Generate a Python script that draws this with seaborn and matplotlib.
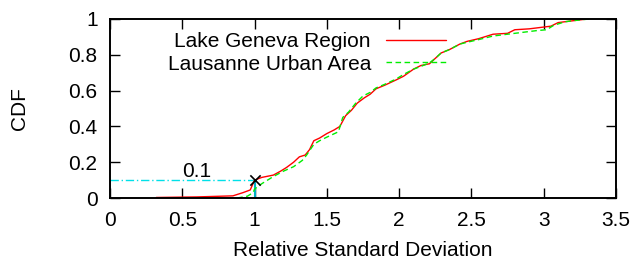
import matplotlib
matplotlib.use("Agg")
import matplotlib.pyplot as plt
import seaborn as sns
import pandas as pd

# data
red_x = [0.32, 0.60, 0.85, 0.92, 0.97, 1.00, 1.05, 1.13, 1.18, 1.22, 1.27, 1.31, 1.35, 1.38, 1.41,
         1.45, 1.50, 1.55, 1.59, 1.61, 1.63, 1.67, 1.71, 1.76, 1.80, 1.84, 1.90, 1.98, 2.03, 2.10,
         2.15, 2.21, 2.25, 2.29, 2.35, 2.42, 2.47, 2.55, 2.65, 2.75, 2.80, 2.90, 3.00, 3.05, 3.10,
         3.20, 3.30]
red_y = [0.003, 0.006, 0.012, 0.03, 0.045, 0.10, 0.115, 0.128, 0.15, 0.17, 0.20, 0.23, 0.24, 0.27, 0.32,
         0.335, 0.36, 0.38, 0.40, 0.43, 0.46, 0.49, 0.53, 0.56, 0.58, 0.61, 0.63, 0.66, 0.68, 0.72,
         0.74, 0.75, 0.78, 0.81, 0.83, 0.86, 0.875, 0.89, 0.915, 0.92, 0.94, 0.945, 0.955, 0.96, 0.98,
         0.99, 1.0]
green_x = [0.88, 0.95, 0.99, 1.00, 1.05, 1.13, 1.20, 1.27, 1.33, 1.36, 1.41, 1.45, 1.50, 1.58, 1.61,
           1.65, 1.70, 1.75, 1.80, 1.84, 1.90, 1.98, 2.03, 2.10, 2.15, 2.21, 2.25, 2.29, 2.35, 2.42,
           2.47, 2.55, 2.65, 2.75, 2.85, 2.95, 3.02, 3.07, 3.15, 3.25, 3.32]
green_y = [0.0, 0.01, 0.03, 0.05, 0.08, 0.12, 0.15, 0.175, 0.21, 0.24, 0.30, 0.32, 0.34, 0.37, 0.45,
           0.48, 0.53, 0.57, 0.59, 0.615, 0.635, 0.665, 0.69, 0.72, 0.735, 0.755, 0.78, 0.81, 0.83, 0.86,
           0.87, 0.885, 0.905, 0.915, 0.925, 0.935, 0.94, 0.965, 0.985, 0.995, 1.0]
series_names = ["Lake Geneva Region", "Lausanne Urban Area"]
mark_x, mark_y = 1.0, 0.1
mark_label = "0.1"
x_ticks = [0, 0.5, 1, 1.5, 2, 2.5, 3, 3.5]
x_tick_labels = ["0", "0.5", "1", "1.5", "2", "2.5", "3", "3.5"]
y_ticks = [0, 0.2, 0.4, 0.6, 0.8, 1]
y_tick_labels = ["0", "0.2", "0.4", "0.6", "0.8", "1"]

FS = 15

sns.set_theme(style="white")
plt.rcParams["font.family"] = ["Liberation Sans", "DejaVu Sans"]
plt.rcParams["text.color"] = "black"
plt.rcParams["axes.labelcolor"] = "black"

fig = plt.figure(figsize=(6.36, 2.6), dpi=100)
ax = fig.add_axes([110/636, 1-198/260, 506/636, 179/260])

df_r = pd.DataFrame({"x": red_x, "y": red_y})
df_g = pd.DataFrame({"x": green_x, "y": green_y})

# reference lines at 0.1
ax.plot([0, mark_x], [mark_y, mark_y], color="#00e0e8", lw=1, ls=(0, (6, 2, 1, 2)))
ax.plot([mark_x, mark_x], [0, mark_y], color="#00b0c8", lw=1.5)

sns.lineplot(data=df_r, x="x", y="y", ax=ax, color="#ff0000", lw=1, sort=False,
             estimator=None, label=series_names[0])
sns.lineplot(data=df_g, x="x", y="y", ax=ax, color="#00ee00", lw=1, sort=False,
             estimator=None, label=series_names[1])
ax.lines[-1].set_linestyle((0, (4, 2.5)))

sns.scatterplot(x=[mark_x], y=[mark_y], ax=ax, marker="x", color="black", s=55,
                linewidth=1.2, zorder=5)
ax.text(0.6, 0.147, mark_label, ha="center", va="center", fontsize=FS, color="black")

ax.set_xlim(0, 3.5)
ax.set_ylim(0, 1)
ax.set_xticks(x_ticks)
ax.set_xticklabels(x_tick_labels)
ax.set_yticks(y_ticks)
ax.set_yticklabels(y_tick_labels)
ax.tick_params(direction="in", length=7, width=1, colors="black", labelsize=FS,
               top=True, right=True, bottom=True, left=True, pad=9)
for s in ax.spines.values():
    s.set_color("black")
    s.set_linewidth(1.4)
ax.set_xlabel("Relative Standard Deviation", fontsize=FS, color="black")
ax.set_ylabel("CDF", fontsize=FS, color="black")
ax.xaxis.set_label_coords(253/506, (198-250)/179)
ax.xaxis.label.set_va("center")
ax.yaxis.set_label_coords((20-110)/506, 0.5)
ax.yaxis.label.set_va("center")

leg = ax.legend(loc="upper right", bbox_to_anchor=((446-110)/506, 0.925), frameon=False,
                fontsize=FS, markerfirst=False, handlelength=2.9, handletextpad=0.7,
                labelspacing=0.15, borderaxespad=0, borderpad=0)
for t in leg.get_texts():
    t.set_color("black")
for h in leg.get_lines():
    h.set_linewidth(1)
leg.get_lines()[1].set_linestyle((0, (4, 2.5)))

fig.savefig("out.png", dpi=100)
